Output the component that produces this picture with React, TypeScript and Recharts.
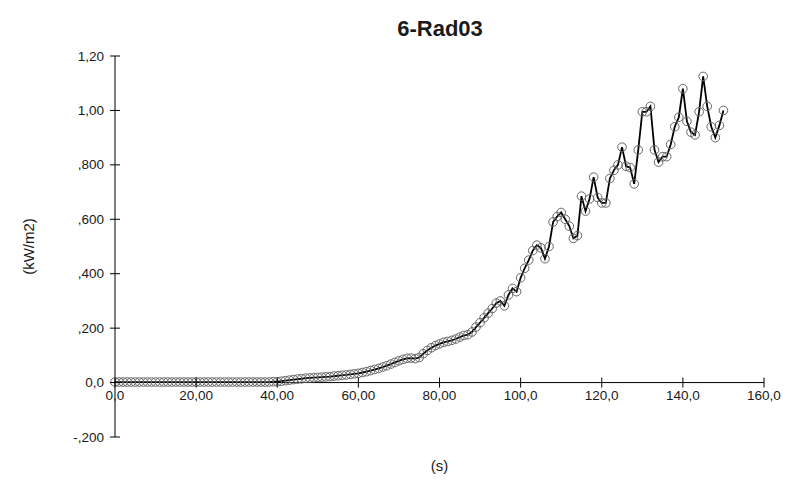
import React from 'react';
import { LineChart, Line, XAxis, YAxis, ReferenceLine } from 'recharts';

const chartTitle = '6-Rad03';
const xAxisTitle = '(s)';
const yAxisTitle = '(kW/m2)';

const xTicks = [0, 20, 40, 60, 80, 100, 120, 140, 160];
const xTickLabels = ['0,0', '20,00', '40,00', '60,00', '80,00', '100,0', '120,0', '140,0', '160,0'];
const yTicks = [-0.2, 0, 0.2, 0.4, 0.6, 0.8, 1.0, 1.2];
const yTickLabels = ['-,200', '0,0', ',200', ',400', ',600', ',800', '1,00', '1,20'];

// radiation (kW/m2), one reading per second from t = 0 s
const radiation = [
  0.002, 0.002, 0.002, 0.002, 0.002, 0.002, 0.002, 0.002, 0.002, 0.002,
  0.002, 0.002, 0.002, 0.002, 0.002, 0.002, 0.002, 0.002, 0.002, 0.002,
  0.002, 0.002, 0.002, 0.002, 0.002, 0.002, 0.002, 0.002, 0.002, 0.002,
  0.002, 0.002, 0.002, 0.002, 0.002, 0.002, 0.002, 0.002, 0.002, 0.003,
  0.003, 0.005, 0.007, 0.009, 0.011, 0.013, 0.014, 0.016, 0.017, 0.018,
  0.019, 0.020, 0.021, 0.022, 0.024, 0.025, 0.027, 0.028, 0.030, 0.032,
  0.034, 0.037, 0.040, 0.044, 0.048, 0.052, 0.057, 0.062, 0.068, 0.074,
  0.080, 0.085, 0.089, 0.090, 0.088, 0.092, 0.106, 0.118, 0.128, 0.136,
  0.142, 0.148, 0.151, 0.155, 0.160, 0.167, 0.173, 0.176, 0.186, 0.204,
  0.220, 0.238, 0.255, 0.272, 0.292, 0.300, 0.282, 0.322, 0.346, 0.334,
  0.385, 0.420, 0.450, 0.485, 0.505, 0.495, 0.455, 0.500, 0.590, 0.610,
  0.625, 0.600, 0.575, 0.530, 0.540, 0.685, 0.630, 0.675, 0.755, 0.680,
  0.660, 0.660, 0.750, 0.780, 0.800, 0.865, 0.795, 0.790, 0.730, 0.855,
  0.995, 0.995, 1.015, 0.855, 0.810, 0.830, 0.830, 0.875, 0.940, 0.975,
  1.080, 0.960, 0.920, 0.910, 0.995, 1.125, 1.015, 0.940, 0.900, 0.945,
  1.000,
];
const startTime = 0;
const timeStep = 1;

const data = radiation.map((v, i) => ({ t: startTime + i * timeStep, v }));

const W = 787;
const H = 492;
const MARGIN = { top: 56, right: 23, bottom: 25, left: 0 };
const Y_AXIS_W = 115;
const X_AXIS_H = 30;
const PLOT_H = H - MARGIN.top - MARGIN.bottom - X_AXIS_H;
const Y_MIN = -0.2;
const Y_MAX = 1.2;
const ZERO_FROM_BOTTOM = (PLOT_H * (0 - Y_MIN)) / (Y_MAX - Y_MIN);

const FONT = '"Liberation Sans", Arial, Helvetica, sans-serif';
const TEXT = '#1a1a1a';

const XTick = (props: any) => {
  const { x, y, payload } = props;
  const y0 = y - ZERO_FROM_BOTTOM;
  const i = xTicks.indexOf(payload.value);
  return (
    <g>
      <line x1={x} x2={x} y1={y0 - 5} y2={y0 + 5} stroke="#000" strokeWidth={1} />
      <text x={x} y={y0 + 17} textAnchor="middle" fontSize={13.5} fill={TEXT} fontFamily={FONT}>
        {xTickLabels[i]}
      </text>
    </g>
  );
};

const YTick = (props: any) => {
  const { x, y, payload } = props;
  const i = yTicks.findIndex((t) => Math.abs(t - payload.value) < 1e-9);
  return (
    <g>
      <line x1={x - 5} x2={x + 5} y1={y} y2={y} stroke="#000" strokeWidth={1} />
      <text x={x - 11} y={y + 4.5} textAnchor="end" fontSize={13.5} fill={TEXT} fontFamily={FONT}>
        {yTickLabels[i]}
      </text>
    </g>
  );
};

const XTitle = (props: any) => {
  const vb = props.viewBox || {};
  return (
    <text x={vb.x + vb.width / 2} y={vb.y + 34} textAnchor="middle" fontSize={15} fill={TEXT} fontFamily={FONT}>
      {xAxisTitle}
    </text>
  );
};

const YTitle = (props: any) => {
  const vb = props.viewBox || {};
  const cx = vb.x + 28;
  const cy = vb.y + vb.height / 2;
  return (
    <text
      x={cx}
      y={cy}
      transform={`rotate(-90 ${cx} ${cy})`}
      textAnchor="middle"
      dominantBaseline="central"
      fontSize={15}
      fill={TEXT}
      fontFamily={FONT}
    >
      {yAxisTitle}
    </text>
  );
};

export default function App() {
  return (
    <div style={{ position: 'absolute', left: 0, top: 0, width: W, height: H, background: '#fff' }}>
      <div
        style={{
          position: 'absolute',
          left: 340,
          top: 15,
          width: 200,
          textAlign: 'center',
          fontFamily: FONT,
          fontWeight: 'bold',
          fontSize: 22,
          lineHeight: '28px',
          color: TEXT,
        }}
      >
        {chartTitle}
      </div>
      <LineChart width={W} height={H} data={data} margin={MARGIN}>
        <XAxis
          dataKey="t"
          type="number"
          domain={[0, 160]}
          ticks={xTicks}
          interval={0}
          axisLine={false}
          tickLine={false}
          tickSize={0}
          tickMargin={0}
          tick={<XTick />}
          height={X_AXIS_H}
          label={{ content: <XTitle /> }}
        />
        <YAxis
          type="number"
          domain={[Y_MIN, Y_MAX]}
          ticks={yTicks}
          interval={0}
          width={Y_AXIS_W}
          axisLine={{ stroke: '#000', strokeWidth: 1 }}
          tickLine={false}
          tickSize={0}
          tickMargin={0}
          tick={<YTick />}
          label={{ content: <YTitle /> }}
        />
        <ReferenceLine y={0} stroke="#000" strokeWidth={1} ifOverflow="extendDomain" />
        <Line
          type="linear"
          dataKey="v"
          stroke="#000"
          strokeWidth={1.8}
          dot={{ r: 4.3, stroke: '#666', strokeWidth: 1, fill: 'none' }}
          activeDot={false}
          isAnimationActive={false}
        />
      </LineChart>
    </div>
  );
}
